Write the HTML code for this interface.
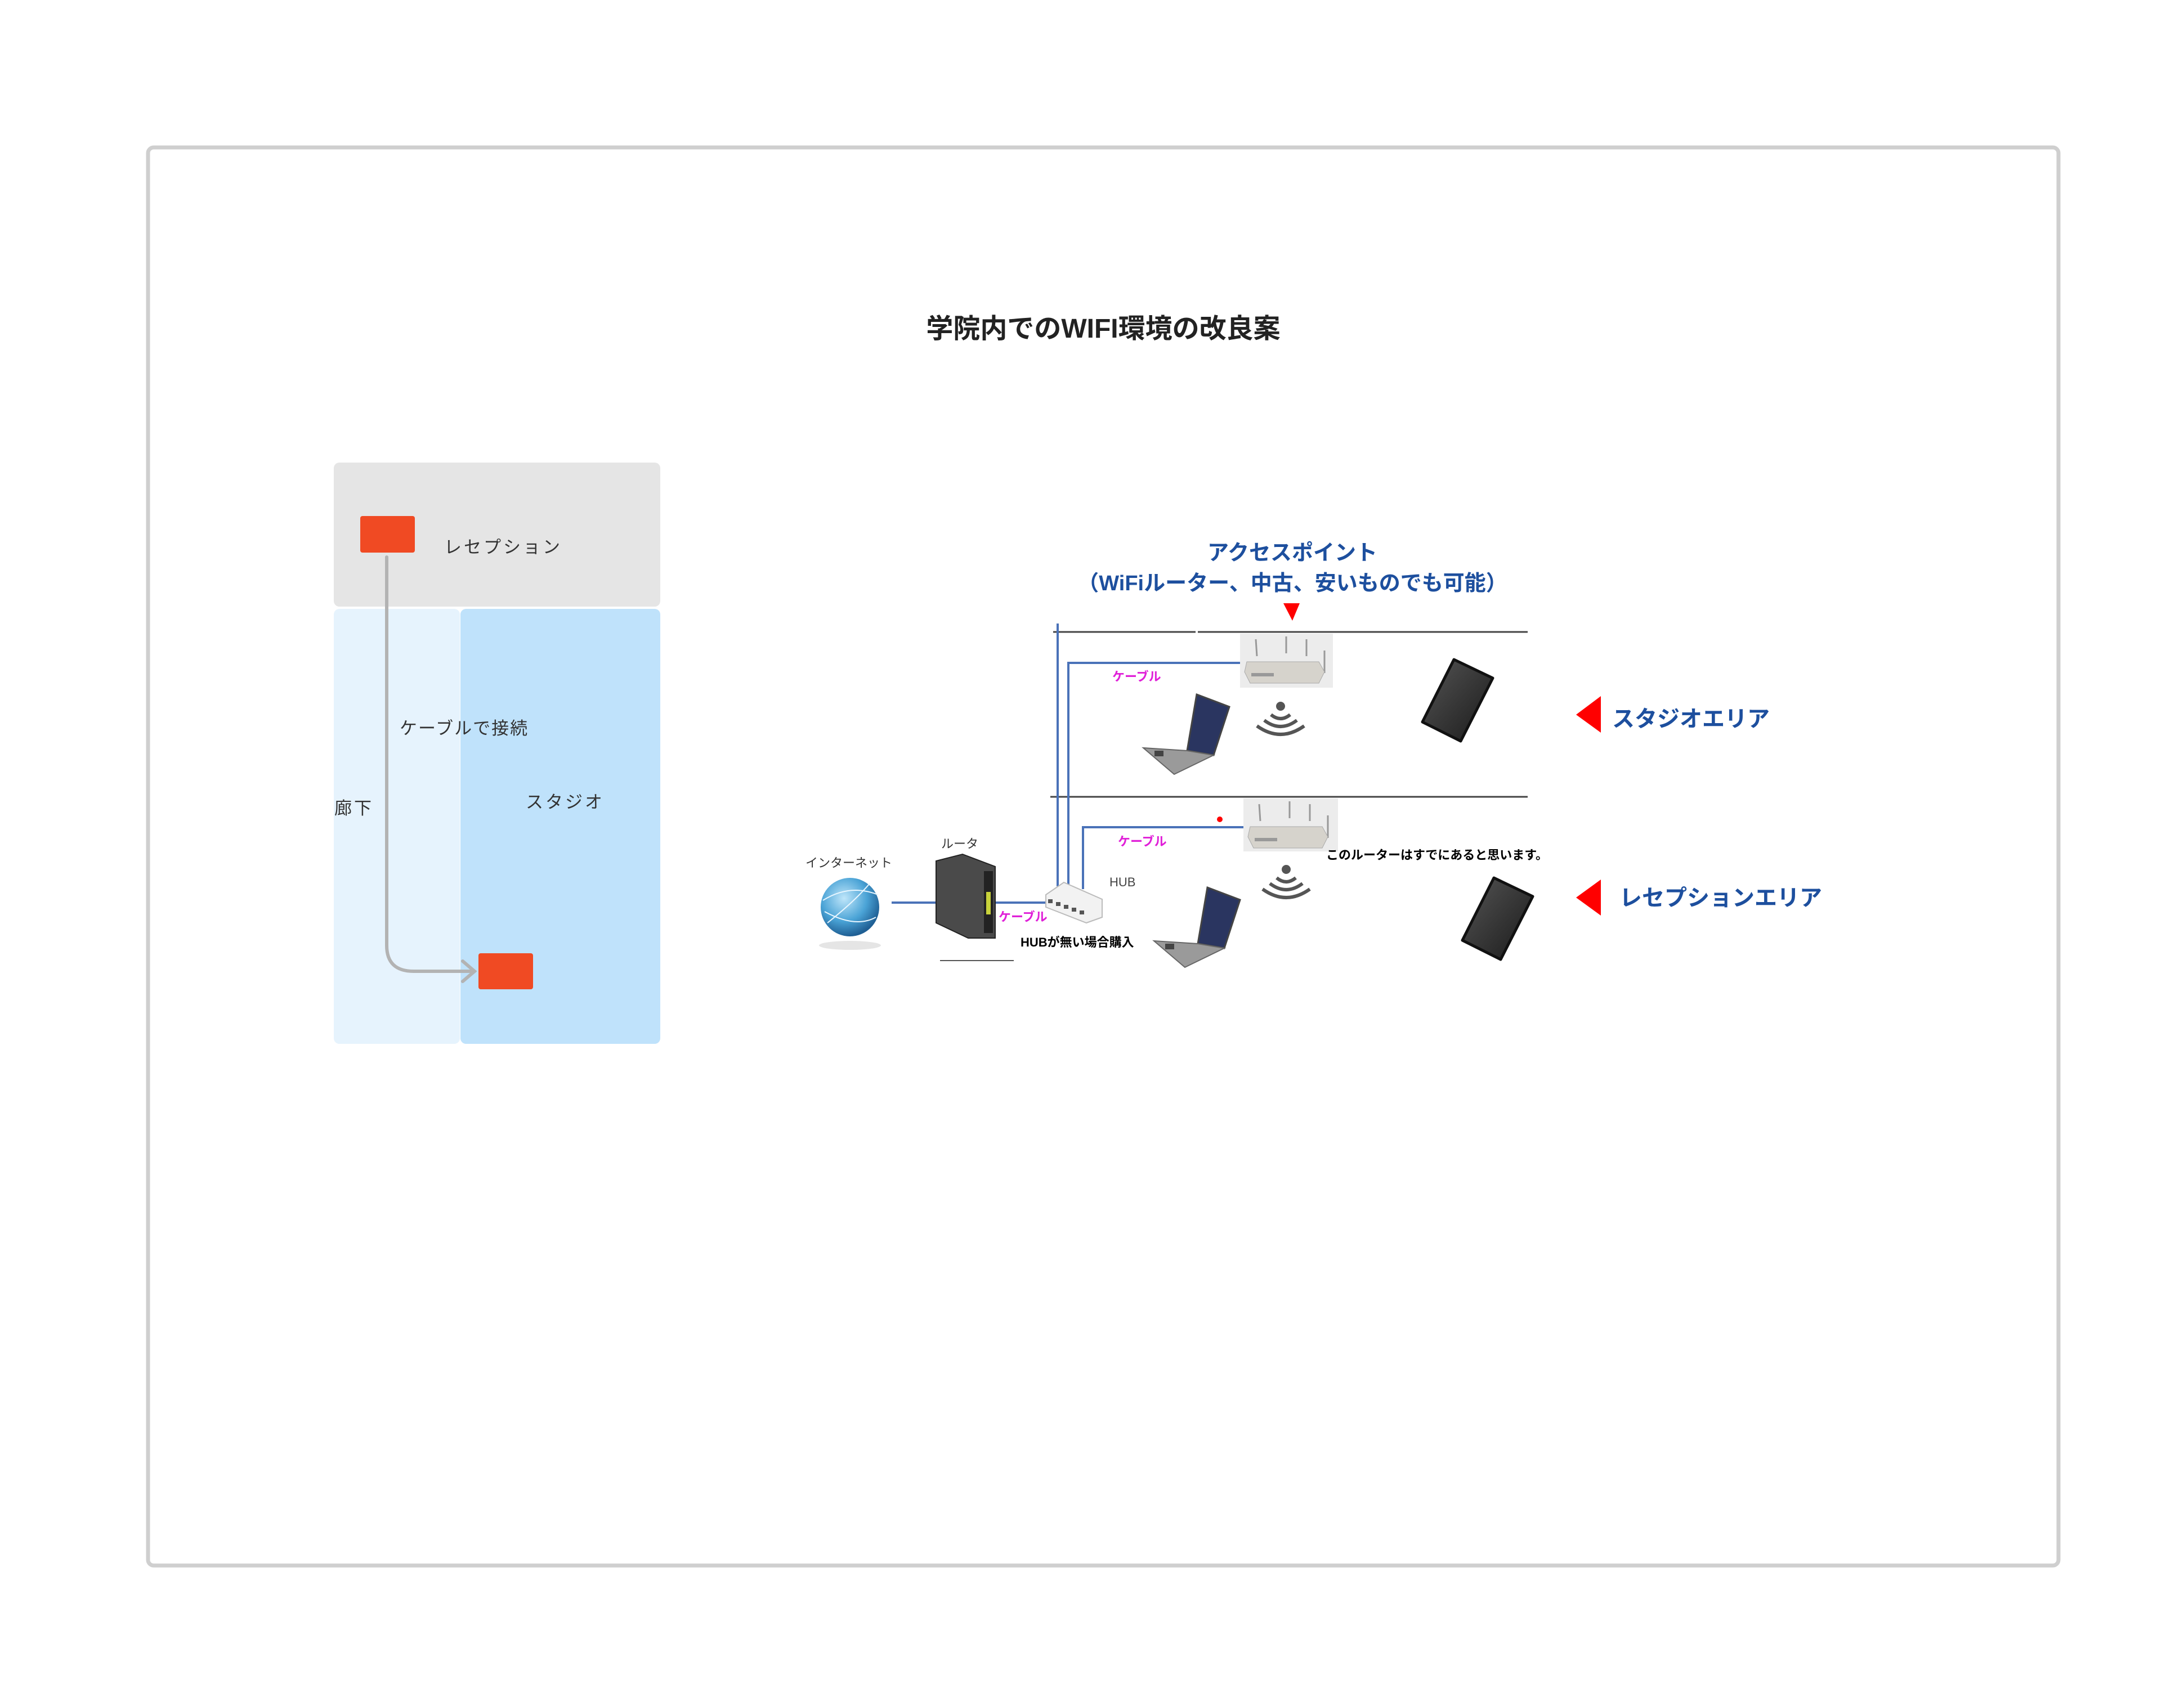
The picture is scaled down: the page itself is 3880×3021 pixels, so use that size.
<!DOCTYPE html>
<html><head><meta charset="utf-8"><style>
html,body{margin:0;padding:0;background:#fff;}
svg text{font-family:"Liberation Sans","Noto Sans CJK JP",sans-serif;}
</style></head><body>
<svg width="3880" height="3016" viewBox="0 0 3880 3016" xmlns="http://www.w3.org/2000/svg">
<defs>
<radialGradient id="gl" cx="40%" cy="35%" r="65%"><stop offset="0" stop-color="#bfe6fa"/><stop offset="0.6" stop-color="#4aa3d6"/><stop offset="1" stop-color="#1f5f94"/></radialGradient>
<linearGradient id="tb" x1="0" y1="0" x2="1" y2="1"><stop offset="0" stop-color="#555"/><stop offset="1" stop-color="#1a1a1a"/></linearGradient>
</defs>
<rect x="263" y="262" width="3394" height="2520" rx="10" fill="#fff" stroke="#cfcfcf" stroke-width="7"/>
<text x="1960" y="600" text-anchor="middle" font-size="48" font-weight="bold" fill="#222">学院内でのWIFI環境の改良案</text>

<!-- left diagram -->
<rect x="593" y="822" width="580" height="256" rx="10" fill="#e5e5e5"/>
<rect x="593" y="1082" width="224" height="773" rx="10" fill="#e6f3fd"/>
<rect x="818" y="1082" width="355" height="773" rx="10" fill="#bfe2fb"/>
<rect x="640" y="917" width="97" height="65" rx="4" fill="#f04a23"/>
<rect x="850" y="1694" width="97" height="64" rx="4" fill="#f04a23"/>
<path d="M687 990 V1680 Q687 1726 735 1726 H840" fill="none" stroke="#b3b3b3" stroke-width="6" stroke-linecap="round"/>
<path d="M822 1708 L843 1726 L822 1744" fill="none" stroke="#b3b3b3" stroke-width="6" stroke-linecap="round"/>
<text x="789" y="983" font-size="31" fill="#333" letter-spacing="4">レセプション</text>
<text x="710" y="1305" font-size="31" fill="#333" letter-spacing="2">ケーブルで接続</text>
<text x="594" y="1447" font-size="31" fill="#333" letter-spacing="4">廊下</text>
<text x="934" y="1436" font-size="31" fill="#333" letter-spacing="4">スタジオ</text>

<!-- right diagram -->
<text x="2296" y="995" text-anchor="middle" font-size="38" font-weight="bold" fill="#1d4f9e">アクセスポイント</text>
<text x="2296" y="1049" text-anchor="middle" font-size="38" font-weight="bold" fill="#1d4f9e">（WiFiルーター、中古、安いものでも可能）</text>
<polygon points="2280,1072 2309,1072 2296,1103" fill="#f00"/>
<line x1="1871" y1="1123" x2="2124" y2="1123" stroke="#444" stroke-width="3"/>
<line x1="2128" y1="1123" x2="2714" y2="1123" stroke="#444" stroke-width="3"/>
<line x1="1866" y1="1416" x2="2714" y2="1416" stroke="#444" stroke-width="3"/>

<g stroke="#4a72b8" stroke-width="4" fill="none">
<line x1="1879" y1="1108" x2="1879" y2="1575"/>
<polyline points="1898,1575 1898,1178 2204,1178"/>
<polyline points="1924,1580 1924,1470 2210,1470"/>
<line x1="1584" y1="1604" x2="1664" y2="1604"/>
<line x1="1768" y1="1604" x2="1858" y2="1604"/>
</g>
<line x1="1670" y1="1707" x2="1801" y2="1707" stroke="#555" stroke-width="2"/>

<!-- AP1 -->
<g transform="translate(2203,1126)">
<rect width="165" height="96" fill="#ececec"/>
<g stroke="#999" stroke-width="3"><line x1="30" y1="40" x2="28" y2="10"/><line x1="82" y1="35" x2="82" y2="5"/><line x1="118" y1="40" x2="118" y2="10"/><line x1="150" y1="70" x2="150" y2="30"/></g>
<polygon points="12,50 140,50 150,68 140,88 18,88 8,68" fill="#d6d3cc" stroke="#aaa"/>
<rect x="20" y="70" width="40" height="6" fill="#999"/>
</g>
<g transform="translate(2209,1419)">
<rect width="168" height="94" fill="#ececec"/>
<g stroke="#999" stroke-width="3"><line x1="30" y1="40" x2="28" y2="10"/><line x1="82" y1="35" x2="82" y2="5"/><line x1="118" y1="40" x2="118" y2="10"/><line x1="150" y1="70" x2="150" y2="30"/></g>
<polygon points="12,50 140,50 150,68 140,88 18,88 8,68" fill="#d6d3cc" stroke="#aaa"/>
<rect x="20" y="70" width="40" height="6" fill="#999"/>
</g>
<circle cx="2167" cy="1456" r="5" fill="#f00"/>

<!-- wifi -->
<g fill="none" stroke="#555" stroke-width="6">
<circle cx="2275" cy="1255" r="5" fill="#555"/>
<path d="M2258 1270 Q2275 1284 2292 1270"/><path d="M2246 1280 Q2275 1302 2304 1280"/><path d="M2233 1290 Q2275 1320 2317 1290"/>
<circle cx="2285" cy="1545" r="5" fill="#555"/>
<path d="M2268 1560 Q2285 1574 2302 1560"/><path d="M2256 1570 Q2285 1592 2314 1570"/><path d="M2243 1580 Q2285 1610 2327 1580"/>
</g>

<!-- laptops -->
<g transform="translate(2031,1234)">
<polygon points="95,0 153,22 125,108 78,100" fill="#2a3560" stroke="#444" stroke-width="3"/>
<polygon points="0,95 78,100 125,108 55,142" fill="#9a9a9a" stroke="#666" stroke-width="2"/>
<rect x="20" y="100" width="16" height="10" fill="#444"/>
</g>
<g transform="translate(2050,1577)">
<polygon points="95,0 153,22 125,108 78,100" fill="#2a3560" stroke="#444" stroke-width="3"/>
<polygon points="0,95 78,100 125,108 55,142" fill="#9a9a9a" stroke="#666" stroke-width="2"/>
<rect x="20" y="100" width="16" height="10" fill="#444"/>
</g>

<!-- tablets -->
<polygon points="2583,1172 2652,1205 2595,1317 2527,1283" fill="url(#tb)" stroke="#111" stroke-width="5" stroke-linejoin="round"/>
<polygon points="2654,1560 2723,1593 2666,1705 2598,1671" fill="url(#tb)" stroke="#111" stroke-width="5" stroke-linejoin="round"/>

<!-- area labels -->
<polygon points="2844,1237 2844,1302 2800,1270" fill="#f00"/>
<text x="2864" y="1291" font-size="40" font-weight="bold" fill="#1d4f9e">スタジオエリア</text>
<polygon points="2844,1563 2844,1627 2800,1595" fill="#f00"/>
<text x="2877" y="1609" font-size="40" font-weight="bold" fill="#1d4f9e">レセプションエリア</text>

<!-- labels -->
<text x="1976" y="1210" font-size="22" font-weight="bold" fill="#e020d8">ケーブル</text>
<text x="1986" y="1503" font-size="22" font-weight="bold" fill="#e020d8">ケーブル</text>
<text x="1774" y="1637" font-size="22" font-weight="bold" fill="#e020d8">ケーブル</text>
<text x="2356" y="1527" font-size="22" font-weight="bold" fill="#000">このルーターはすでにあると思います。</text>
<text x="1971" y="1575" font-size="22" fill="#444">HUB</text>
<text x="1813" y="1682" font-size="22" font-weight="bold" fill="#000">HUBが無い場合購入</text>
<text x="1431" y="1541" font-size="22" fill="#333">インターネット</text>
<text x="1672" y="1507" font-size="22" fill="#333">ルータ</text>

<!-- globe -->
<ellipse cx="1510" cy="1680" rx="55" ry="8" fill="#e5e5e5"/>
<circle cx="1510" cy="1612" r="52" fill="url(#gl)"/>
<g stroke="#e8f6ff" stroke-width="2" fill="none"><path d="M1462 1600 Q1510 1570 1560 1590"/><path d="M1470 1640 Q1520 1600 1545 1570"/><path d="M1465 1620 Q1520 1650 1556 1630"/></g>

<!-- router -->
<polygon points="1663,1530 1710,1518 1768,1540 1768,1667 1720,1667 1663,1640" fill="#4a4a4a" stroke="#222" stroke-width="2"/>
<rect x="1748" y="1548" width="16" height="110" fill="#222"/>
<rect x="1752" y="1585" width="8" height="40" fill="#c8d23a"/>

<!-- hub -->
<polygon points="1858,1590 1890,1568 1958,1598 1958,1630 1930,1640 1858,1612" fill="#f2f2f2" stroke="#bbb" stroke-width="2"/>
<g fill="#555"><rect x="1862" y="1598" width="8" height="7"/><rect x="1876" y="1603" width="8" height="7"/><rect x="1890" y="1608" width="8" height="7"/><rect x="1904" y="1613" width="8" height="7"/><rect x="1918" y="1618" width="8" height="7"/></g>
</svg>
</body></html>
